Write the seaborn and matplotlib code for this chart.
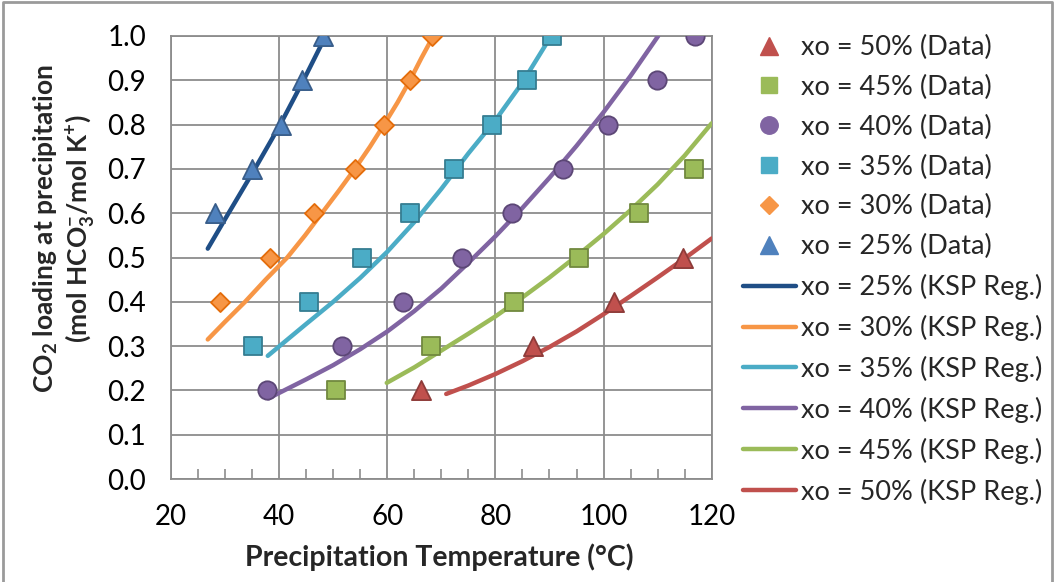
import matplotlib
matplotlib.use("Agg")
import matplotlib.pyplot as plt
import seaborn as sns
import pandas as pd
from matplotlib.lines import Line2D
from matplotlib.ticker import MultipleLocator, FormatStrFormatter

# ---------------- data ----------------
data_y25 = [0.6, 0.7, 0.8, 0.9, 1.0]
data_t25 = [28.1, 35.0, 40.3, 44.3, 48.2]
data_y30 = [0.4, 0.5, 0.6, 0.7, 0.8, 0.9, 1.0]
data_t30 = [29.1, 38.3, 46.5, 54.0, 59.4, 64.2, 68.2]
data_y35 = [0.3, 0.4, 0.5, 0.6, 0.7, 0.8, 0.9, 1.0]
data_t35 = [35.2, 45.5, 55.4, 64.2, 72.3, 79.4, 85.8, 90.4]
data_y40 = [0.2, 0.3, 0.4, 0.5, 0.6, 0.7, 0.8, 0.9, 1.0]
data_t40 = [37.7, 51.6, 62.9, 73.8, 83.1, 92.5, 100.9, 109.9, 117.0]
data_y45 = [0.2, 0.3, 0.4, 0.5, 0.6, 0.7]
data_t45 = [50.6, 68.1, 83.5, 95.5, 106.6, 116.8]
data_y50 = [0.2, 0.3, 0.4, 0.5]
data_t50 = [66.3, 87.0, 101.9, 114.7]

reg_t25 = [26.8, 30.4, 35.5, 40.2, 44.5, 48.4]
reg_y25 = [0.52, 0.595, 0.70, 0.80, 0.90, 0.995]
reg_t30 = [26.8, 30.0, 33.7, 37.5, 41.5, 44.8, 47.9, 51.0, 54.0, 56.8, 59.4, 61.9, 64.2, 66.3, 68.3]
reg_y30 = [0.315, 0.355, 0.40, 0.45, 0.50, 0.55, 0.60, 0.65, 0.70, 0.75, 0.80, 0.85, 0.90, 0.95, 0.995]
reg_t35 = [37.9, 45, 50, 55, 60, 65, 70, 75, 80, 85, 90.3]
reg_y35 = [0.278, 0.35, 0.40, 0.454, 0.513, 0.58, 0.655, 0.735, 0.81, 0.895, 1.0]
reg_t40 = [38, 45, 50, 55, 60, 65, 70, 75, 80, 85, 90, 95, 100, 105, 110.1]
reg_y40 = [0.182, 0.225, 0.257, 0.293, 0.333, 0.379, 0.430, 0.488, 0.548, 0.612,
           0.680, 0.752, 0.828, 0.910, 1.0]
reg_t45 = [59.9, 65, 70, 75, 80, 85, 90, 95, 100, 105, 110, 115, 120]
reg_y45 = [0.217, 0.252, 0.290, 0.328, 0.367, 0.41, 0.455, 0.503, 0.553, 0.607,
           0.665, 0.73, 0.803]
reg_t50 = [70.9, 75, 80, 85, 90, 95, 100, 105, 110, 115, 120]
reg_y50 = [0.192, 0.211, 0.237, 0.266, 0.298, 0.333, 0.372, 0.413, 0.455, 0.498, 0.543]

x_ticks = [20, 40, 60, 80, 100, 120]
y_ticks = [0.0, 0.1, 0.2, 0.3, 0.4, 0.5, 0.6, 0.7, 0.8, 0.9, 1.0]

# ---------------- style ----------------
sns.set_theme(style="white")
plt.rcParams["font.family"] = ["Lato", "DejaVu Sans"]
plt.rcParams["mathtext.fontset"] = "custom"
plt.rcParams["mathtext.rm"] = "Lato"
plt.rcParams["mathtext.bf"] = "Lato:bold"
plt.rcParams["mathtext.default"] = "regular"

FS_TICK = 20
FS_LEG = 19.5
GRID = "#8c8c8c"

fig = plt.figure(figsize=(10.55, 5.82), dpi=100)
ax = fig.add_axes([171 / 1055, 1 - 479 / 582, (711.7 - 171) / 1055, (479 - 36) / 582])

series = [
    # pct, t, y, marker, fill, edge, size
    ("50%", data_t50, data_y50, "^", "#C0504D", "#8E3B39", 190),
    ("45%", data_t45, data_y45, "s", "#9BBB59", "#71893F", 150),
    ("40%", data_t40, data_y40, "o", "#8064A2", "#5C4776", 175),
    ("35%", data_t35, data_y35, "s", "#4BACC6", "#357D91", 150),
    ("30%", data_t30, data_y30, "D", "#F79646", "#E46C0A", 95),
    ("25%", data_t25, data_y25, "^", "#4F81BD", "#385D8A", 190),
]
regs = [
    ("25%", reg_t25, reg_y25, "#1F4E86"),
    ("30%", reg_t30, reg_y30, "#F79646"),
    ("35%", reg_t35, reg_y35, "#4BACC6"),
    ("40%", reg_t40, reg_y40, "#8064A2"),
    ("45%", reg_t45, reg_y45, "#9BBB59"),
    ("50%", reg_t50, reg_y50, "#C0504D"),
]

handles, labels = [], []
for pct, t, y, c in regs:
    df = pd.DataFrame({"t": t, "y": y})
    sns.lineplot(data=df, x="t", y="y", ax=ax, color=c, lw=3.2, sort=False,
                 estimator=None, zorder=3, legend=False)

for pct, t, y, m, fc, ec, s in series:
    df = pd.DataFrame({"t": t, "y": y})
    sns.scatterplot(data=df, x="t", y="y", ax=ax, marker=m, s=s, color=fc,
                    edgecolor=ec, linewidth=1.3, zorder=5, legend=False)
    handles.append(Line2D([], [], ls="none", marker=m, markersize=(s ** 0.5) * 0.95,
                          markerfacecolor=fc, markeredgecolor=fc))
    labels.append(f"xo = {pct} (Data)")
for pct, t, y, c in regs:
    handles.append(Line2D([], [], color=c, lw=3.2))
    labels.append(f"xo = {pct} (KSP Reg.)")

ax.set_xlim(20, 120)
ax.set_ylim(0, 1.0)
ax.set_xticks(x_ticks)
ax.set_yticks(y_ticks)
ax.xaxis.set_minor_locator(MultipleLocator(5))
ax.yaxis.set_major_formatter(FormatStrFormatter("%.1f"))
ax.grid(True, which="major", color=GRID, lw=1.3)
ax.set_axisbelow(True)
for sp in ax.spines.values():
    sp.set_visible(True)
    sp.set_color(GRID)
    sp.set_linewidth(1.3)
ax.tick_params(axis="both", which="major", labelsize=FS_TICK, colors="black")
ax.tick_params(axis="x", which="major", color=GRID, length=7, width=1.2,
               direction="out", pad=11)
ax.tick_params(axis="y", which="major", color=GRID, length=5, width=1.2,
               direction="out", pad=13)
ax.tick_params(axis="x", which="minor", direction="in", length=7, width=1.2,
               color=GRID, bottom=True)
ax.set_xlabel("")
ax.set_ylabel("")

fig.text(439 / 1055, 1 - 557 / 582, "Precipitation Temperature (°C)",
         ha="center", va="center", fontsize=20.5, fontweight="bold")
fig.text(64 / 1055, 1 - 229 / 582,
         "CO$_2$ loading at precipitation\n(mol HCO$_3^{-}$/mol K$^{+}$)",
         ha="center", va="center", rotation=90, fontsize=19, fontweight="bold",
         multialignment="center", linespacing=1.15)

fig.legend(handles, labels, loc="upper left",
           bbox_to_anchor=(743 / 1055, 1 - 35 / 582), frameon=False,
           fontsize=FS_LEG, handlelength=1.95, handletextpad=0.2,
           labelspacing=0.545, borderpad=0, borderaxespad=0)

# outer chart border
fig.add_artist(Line2D([0.003, 0.003, 0.997, 0.997], [0, 0.996, 0.996, 0],
                      transform=fig.transFigure, color="#9a9a9a", lw=2))

fig.savefig("out.png", dpi=100)
